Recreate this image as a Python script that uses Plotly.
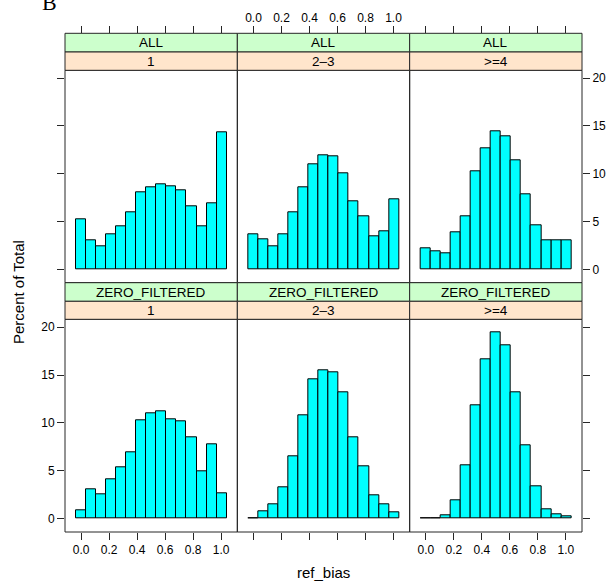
import plotly.graph_objects as go

# ---- data ----
BIN_START = -0.04
BIN_WIDTH = 0.072
N_BINS = 15

set_labels = ["ALL", "ZERO_FILTERED"]
group_labels = ["1", "2\u20133", ">=4"]

all_1 = [5.24, 3.03, 2.38, 3.66, 4.52, 5.93, 8.03, 8.59, 8.86, 8.66, 8.28, 6.62, 4.55, 6.90, 14.34]
all_23 = [3.66, 3.14, 2.41, 3.69, 5.93, 8.59, 10.97, 11.90, 11.83, 10.07, 7.17, 5.59, 3.45, 4.00, 7.38]
all_4 = [2.24, 1.93, 1.69, 3.90, 5.55, 10.24, 12.72, 14.48, 13.90, 11.41, 7.86, 4.62, 3.03, 3.07, 3.03]
zf_1 = [0.90, 3.09, 2.53, 4.13, 5.38, 6.94, 10.28, 11.00, 11.20, 10.35, 10.20, 8.54, 5.00, 7.78, 2.64]
zf_23 = [0.03, 0.76, 1.49, 3.33, 6.49, 10.76, 14.60, 15.50, 15.28, 13.16, 8.51, 5.52, 2.40, 1.53, 0.63]
zf_4 = [0.02, 0.10, 0.38, 1.98, 5.62, 11.80, 16.67, 19.44, 18.09, 13.16, 7.70, 3.44, 0.94, 0.49, 0.21]

x_tickvals = [0.0, 0.2, 0.4, 0.6, 0.8, 1.0]
x_ticktext = ["0.0", "0.2", "0.4", "0.6", "0.8", "1.0"]
y_tickvals = [0, 5, 10, 15, 20]
y_ticktext = ["0", "5", "10", "15", "20"]

panel_values = [[all_1, all_23, all_4], [zf_1, zf_23, zf_4]]

# ---- layout constants ----
W, H = 611, 587
ML, MR, MT, MB = 65, 29, 33, 55
PH = H - MT - MB  # paper height in px
PW = W - ML - MR


def py(px):
    return (H - MB - px) / PH


def pxx(px):
    return (px - ML) / PW


X_RANGE = [-0.1156, 1.1156]
Y_RANGE = [-1.38, 20.82]
FONT = "Liberation Sans, Arial, Helvetica, sans-serif"
LINE = "#262626"
STRIP_OUTER = "#ccffcc"
STRIP_INNER = "#ffe5cc"

rows_px = [
    dict(s1=(33.3, 52.0), s2=(52.0, 70.3), panel=(70.3, 282.7)),
    dict(s1=(282.7, 301.3), s2=(301.3, 319.3), panel=(319.3, 532.0)),
]

centers = [BIN_START + BIN_WIDTH * (i + 0.5) for i in range(N_BINS)]

fig = go.Figure()
shapes = []
annotations = []
layout = {}

for r in range(2):
    for c in range(3):
        k = r * 3 + c + 1
        xa = "x" if k == 1 else f"x{k}"
        ya = "y" if k == 1 else f"y{k}"
        fig.add_trace(go.Bar(
            x=centers, y=panel_values[r][c], width=BIN_WIDTH,
            marker=dict(color="#00ffff", line=dict(color="#000000", width=1)),
            xaxis=xa, yaxis=ya, showlegend=False, hoverinfo="x+y",
        ))
        xd = [c / 3, (c + 1) / 3]
        p = rows_px[r]["panel"]
        yd = [py(p[1]), py(p[0])]
        xkey = "xaxis" if k == 1 else f"xaxis{k}"
        ykey = "yaxis" if k == 1 else f"yaxis{k}"
        show_x_labels = (r == 0 and c == 1) or (r == 1 and c in (0, 2))
        xdict = dict(
            domain=xd, range=X_RANGE, side="top" if r == 0 else "bottom",
            tickvals=x_tickvals, ticktext=x_ticktext, ticks="outside", ticklen=7,
            tickcolor=LINE, tickwidth=1, showticklabels=show_x_labels,
            showline=False, showgrid=False, zeroline=False, fixedrange=True,
            automargin=False,
            tickfont=dict(family=FONT, size=12, color="#000000"),
        )
        if r == 0:
            xdict.update(anchor="free", position=py(rows_px[0]["s1"][0]))
        else:
            xdict.update(anchor=ya)
        layout[xkey] = xdict
        if c == 0:
            yside, yticks, ylab = "left", "outside", (r == 1)
        elif c == 2:
            yside, yticks, ylab = "right", "outside", (r == 0)
        else:
            yside, yticks, ylab = "left", "", False
        layout[ykey] = dict(
            domain=yd, anchor=xa, range=Y_RANGE, side=yside,
            tickvals=y_tickvals, ticktext=y_ticktext, ticks=yticks, ticklen=7,
            tickcolor=LINE, tickwidth=1, showticklabels=ylab,
            showline=False, showgrid=False, zeroline=False, fixedrange=True,
            automargin=False,
            tickfont=dict(family=FONT, size=12, color="#000000"),
        )
        # panel border
        shapes.append(dict(
            type="rect", xref="paper", yref="paper",
            x0=xd[0], x1=xd[1], y0=yd[0], y1=yd[1],
            fillcolor="rgba(0,0,0,0)", line=dict(color=LINE, width=1), layer="above",
        ))
        # strips
        for (key, color, text) in (("s1", STRIP_OUTER, set_labels[r]),
                                   ("s2", STRIP_INNER, group_labels[c])):
            s = rows_px[r][key]
            shapes.append(dict(
                type="rect", xref="paper", yref="paper",
                x0=xd[0], x1=xd[1], y0=py(s[1]), y1=py(s[0]),
                fillcolor=color, line=dict(color=LINE, width=1), layer="above",
            ))
            annotations.append(dict(
                xref="paper", yref="paper", x=(xd[0] + xd[1]) / 2,
                y=(py(s[0]) + py(s[1])) / 2, text=text, showarrow=False,
                xanchor="center", yanchor="middle",
                font=dict(family=FONT, size=13.5, color="#000000"),
            ))

annotations.append(dict(
    xref="paper", yref="paper", x=0.5, y=py(572), text="ref_bias",
    showarrow=False, xanchor="center", yanchor="middle",
    font=dict(family=FONT, size=15, color="#000000"),
))
annotations.append(dict(
    xref="paper", yref="paper", x=pxx(18), y=py(292),
    text="Percent of Total", textangle=-90, showarrow=False,
    xanchor="center", yanchor="middle",
    font=dict(family=FONT, size=15, color="#000000"),
))
annotations.append(dict(
    xref="paper", yref="paper", x=pxx(49), y=py(2),
    text="B", showarrow=False, xanchor="center", yanchor="middle",
    font=dict(family="Liberation Serif, Times New Roman, serif", size=22, color="#000000"),
))

fig.update_layout(
    template="none",
    width=W, height=H, margin=dict(l=ML, r=MR, t=MT, b=MB, pad=0, autoexpand=False),
    paper_bgcolor="white", plot_bgcolor="white", bargap=0,
    font=dict(family=FONT, color="#000000"),
    shapes=shapes, annotations=annotations, **layout,
)

fig.write_html("out.html", config={"displayModeBar": False},
               post_script="document.body.style.margin='0px';")
